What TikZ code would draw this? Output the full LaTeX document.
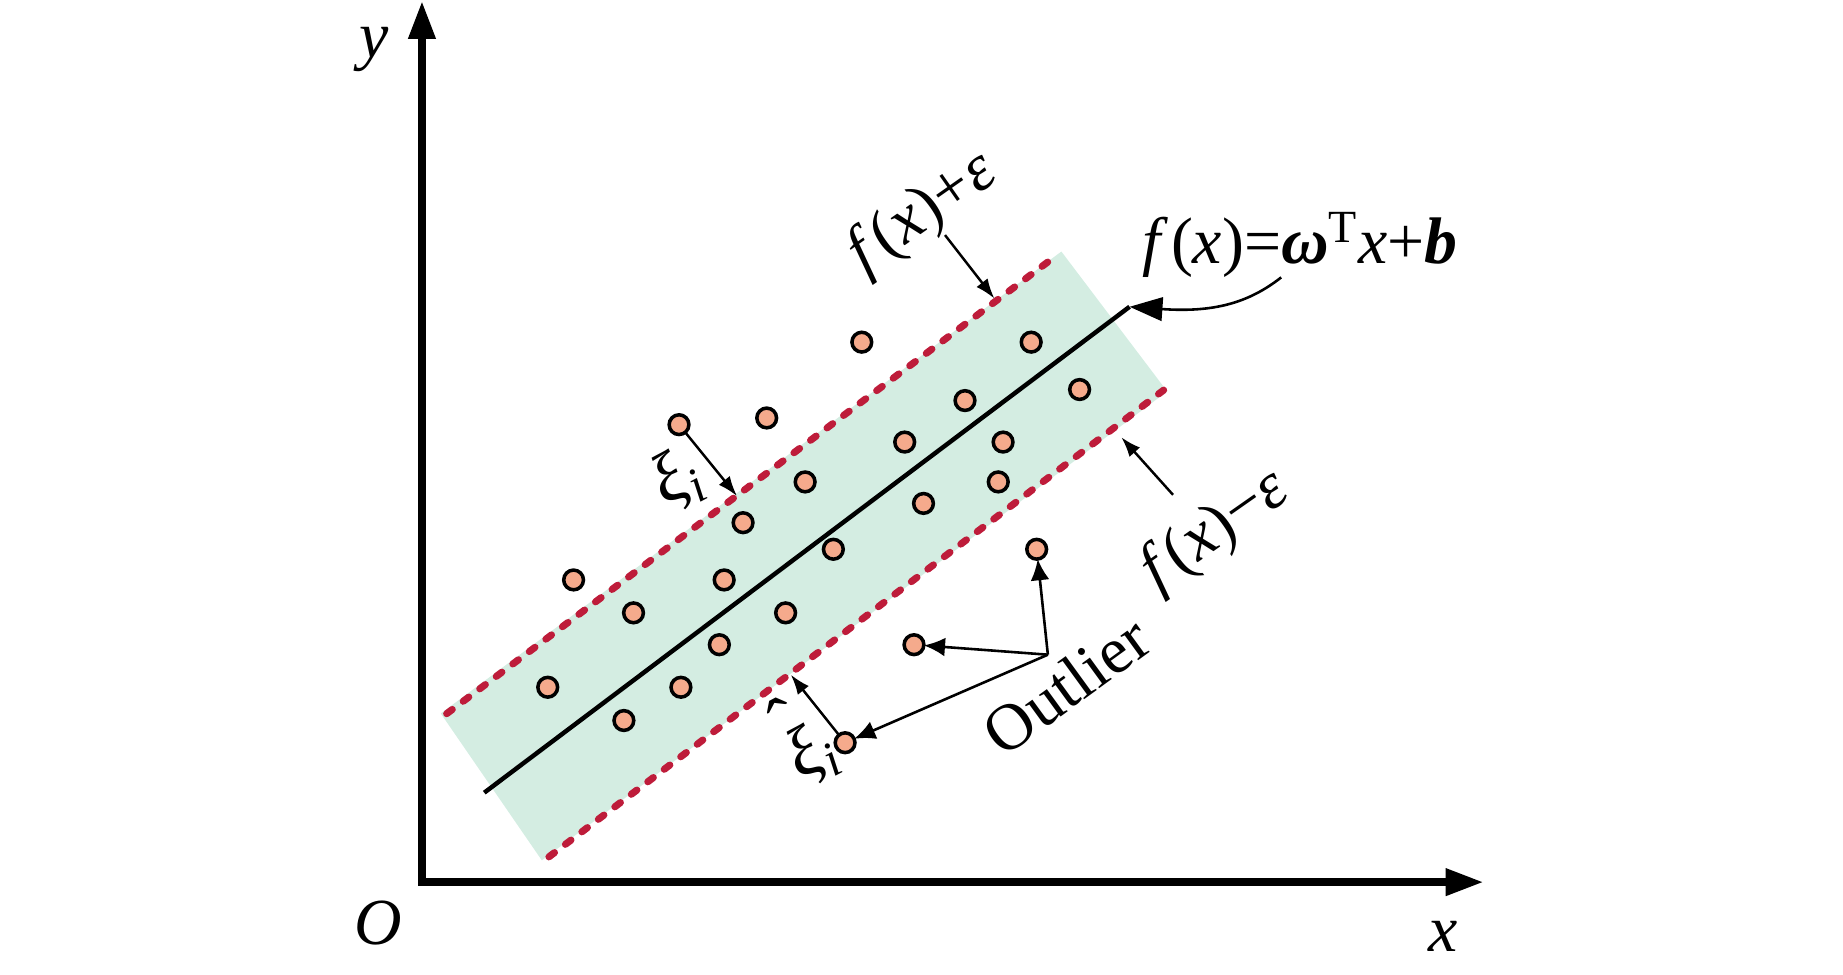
\documentclass[tikz,border=0pt]{standalone}
\usepackage{fontspec}
\setmainfont{Liberation Serif}
\usetikzlibrary{arrows.meta}
\definecolor{bandc}{RGB}{212,237,226}
\definecolor{dotc}{RGB}{245,170,140}
\definecolor{dashc}{RGB}{190,28,58}
\begin{document}
\begin{tikzpicture}[x=0.5pt,y=-0.5pt,
  dotn/.style={circle,draw=black,fill=dotc,line width=1.5pt,minimum size=8.4pt,inner sep=0pt,outer sep=0pt},
  lbl/.style={font=\fontsize{28}{30}\selectfont,inner sep=0pt},
  sublbl/.style={font=\fontsize{30}{32}\selectfont,inner sep=0pt},
  axisline/.style={line width=3.1pt,{Triangle[length=16pt,width=11pt]}-{Triangle[length=16pt,width=11pt]}},
  margin/.style={dashc,line width=3pt,line cap=round,dash pattern=on 3pt off 5.8pt},
  thinarrow/.style={line width=1.05pt,-{Latex[length=8.5pt,width=6pt]}},
  outarrow/.style={line width=1.1pt,-{Latex[length=9pt,width=8pt]}},
]
\path[use as bounding box] (0,0) rectangle (1568,829);
% axes
\coordinate (O) at (359,750.5);
\coordinate (ytip) at (359,1);
\coordinate (xtip) at (1262,750.5);
\draw[axisline] (ytip) -- (O) -- (xtip);
\node[lbl] (ylab) at (318,42) {\textit{y}};
\node[lbl] (olab) at (322,785) {\textit{O}};
\node[lbl] (xlab) at (1228,797) {\textit{x}};
% band
\fill[bandc] (375,607) -- (903,214) -- (993,333) -- (461,732) -- cycle;
\coordinate (tl) at (380,607.2);
\coordinate (tr) at (900,216.5);
\coordinate (bl) at (467,729);
\coordinate (br) at (990,331.9);
\draw[margin] (tl) -- (tr);
\draw[margin] (bl) -- (br);
\coordinate (c1) at (412,674.4);
\coordinate (c2) at (961,261);
\draw[line width=1.9pt] (c1) -- (c2);
% dots
\node[dotn] (a) at (733.2,291.1) {};
\node[dotn] (b) at (877.3,291.1) {};
\node[dotn] (c) at (577.7,361.3) {};
\node[dotn] (d) at (652.3,355.6) {};
\node[dotn] (e) at (821.0,340.8) {};
\node[dotn] (f) at (918.5,331.4) {};
\node[dotn] (g) at (769.7,376.1) {};
\node[dotn] (h) at (853.4,376.1) {};
\node[dotn] (i) at (685.0,410.0) {};
\node[dotn] (j) at (849.3,410.0) {};
\node[dotn] (k) at (632.2,444.7) {};
\node[dotn] (l) at (785.7,428.3) {};
\node[dotn] (m) at (709.0,467.3) {};
\node[dotn] (n) at (882.0,467.3) {};
\node[dotn] (o) at (488.0,493.4) {};
\node[dotn] (p) at (616.1,493.4) {};
\node[dotn] (q) at (539.0,521.4) {};
\node[dotn] (r) at (668.4,521.4) {};
\node[dotn] (s) at (612.0,548.5) {};
\node[dotn] (t) at (777.6,548.5) {};
\node[dotn] (u) at (466.0,584.7) {};
\node[dotn] (v) at (579.3,584.7) {};
\node[dotn] (w) at (530.8,613.0) {};
\node[dotn] (z) at (719.0,631.9) {};
% formula
\node[lbl,anchor=base] (form) at (1106,224) {\textit{f}\kern0.04em(\textit{x})=\textbf{\textit{ω}}\textsuperscript{T}\textit{x}+\textbf{\textit{b}}};
\coordinate (fs) at (1090,236);
\draw[line width=1.1pt,-{Triangle[length=14pt,width=10pt]}] (fs) .. controls (1062,258) and (1032,266) .. (c2);
% f(x)+eps
\node[lbl,rotate=35] (plab) at (785,182) {\textit{f}\kern0.04em(\textit{x})+\textit{ε}};
\coordinate (ps) at (804,200);
\coordinate (pt) at (846,254);
\draw[thinarrow] (ps) -- (pt);
% f(x)-eps
\node[lbl,rotate=35] (mlab) at (1034,452) {\textit{f}\kern0.04em(\textit{x})−\textit{ε}};
\coordinate (ms) at (998,421);
\coordinate (mt) at (954,372);
\draw[thinarrow] (ms) -- (mt);
% xi
\node[sublbl,rotate=28] (xi) at (576,408) {\textit{ξ}\textsubscript{\textit{i}}};
\coordinate (xt) at (627,422);
\draw[thinarrow] (c) -- (xt);
\node[sublbl,rotate=28] (xih) at (684,628) {\rlap{\raisebox{0.5em}{\kern0.02em ˆ}}\textit{ξ}\textsubscript{\textit{i}}};
\coordinate (xht) at (672.8,574);
\draw[thinarrow] (z) -- (xht);
% outlier
\node[lbl,rotate=36] (outl) at (907,583) {Outlier};
\coordinate (J) at (891.5,557);
\draw[outarrow] (J) -- (n);
\draw[outarrow] (J) -- (t);
\draw[outarrow] (J) -- (z);
\end{tikzpicture}
\end{document}
